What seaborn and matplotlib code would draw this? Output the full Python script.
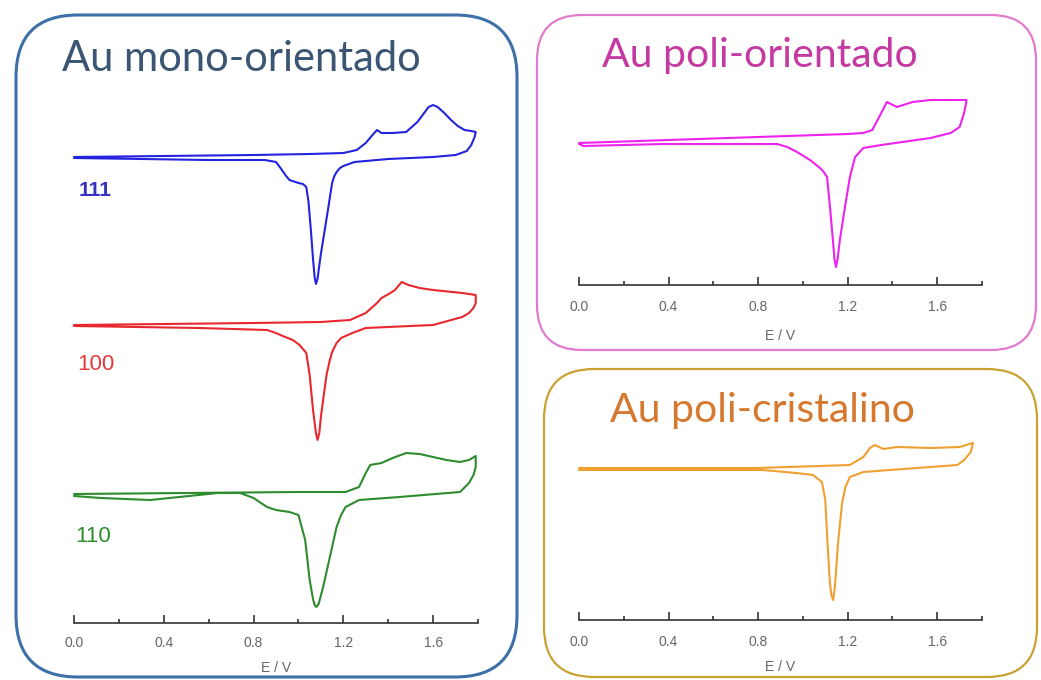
import numpy as np
import pandas as pd
import matplotlib
matplotlib.use("Agg")
import matplotlib.pyplot as plt
from matplotlib.patches import FancyBboxPatch
from matplotlib.ticker import FormatStrFormatter
import seaborn as sns

# --- voltammograms: E in V, current in arbitrary units ---
# Au(111)
e111_fwd = [0.0, 0.4, 0.8, 1.05, 1.20, 1.26, 1.30, 1.33, 1.35, 1.37, 1.42, 1.48, 1.53, 1.56, 1.58, 1.60,
            1.62, 1.65, 1.68, 1.71, 1.74, 1.77, 1.79]
j111_fwd = [0, 1, 2, 3, 4, 7, 14, 22, 27, 24, 24, 25, 35, 44, 50, 52, 50, 44, 37, 31, 27, 26, 25]
e111_rev = [1.79, 1.785, 1.77, 1.75, 1.70, 1.60, 1.40, 1.25, 1.20, 1.185, 1.17, 1.16, 1.15, 1.13, 1.115,
            1.10, 1.092, 1.085, 1.078, 1.072, 1.065, 1.055, 1.045, 1.035, 1.02, 1.00, 0.96, 0.945,
            0.92, 0.90, 0.85, 0.60, 0.30, 0.0]
j111_rev = [25, 20, 12, 6, 2, 0, -2, -5, -9, -11, -15, -19, -26, -55, -76, -97, -110, -122, -127,
            -120, -102, -72, -45, -30, -27, -26, -23, -19, -11, -5, -3, -3, -2, -1]

# Au(100)
e100_fwd = [0.0, 0.4, 0.8, 1.10, 1.23, 1.30, 1.35, 1.37, 1.41, 1.43, 1.46, 1.49, 1.54, 1.60, 1.73, 1.79]
j100_fwd = [0, 1, 2, 3, 5, 12, 22, 27, 32, 35, 43, 40, 37, 35, 32, 30]
e100_rev = [1.79, 1.78, 1.76, 1.73, 1.60, 1.30, 1.24, 1.19, 1.17, 1.15, 1.14, 1.125, 1.113, 1.10,
            1.093, 1.085, 1.078, 1.065, 1.05, 1.035, 1.005, 0.975, 0.93, 0.90, 0.86, 0.56, 0.0]
j100_rev = [22, 17, 12, 8, 0, -3, -8, -13, -18, -27, -35, -50, -70, -92, -108, -115, -108, -85,
            -50, -28, -20, -15, -11, -8, -5, -3, -1]

# Au(110)
e110_fwd = [0.0, 0.5, 1.0, 1.21, 1.27, 1.30, 1.32, 1.37, 1.42, 1.48, 1.54, 1.60, 1.66, 1.72, 1.76, 1.79]
j110_fwd = [0, 1, 2, 2, 7, 21, 29, 31, 36, 41, 40, 37, 34, 32, 34, 38]
e110_rev = [1.79, 1.78, 1.76, 1.72, 1.45, 1.27, 1.21, 1.19, 1.17, 1.14, 1.11, 1.09, 1.08, 1.072,
            1.065, 1.05, 1.03, 1.00, 0.96, 0.90, 0.86, 0.80, 0.74, 0.64, 0.34, 0.12, 0.0]
j110_rev = [27, 19, 11, 2, -3, -6, -13, -21, -33, -63, -93, -110, -113, -111, -105, -86, -46,
            -21, -18, -16, -13, -4, 1, 1, -6, -4, -2]

# Au poli-orientado
epo_fwd = [0.0, 0.4, 0.8, 1.20, 1.27, 1.31, 1.35, 1.375, 1.42, 1.49, 1.57, 1.73]
jpo_fwd = [1, 4, 7, 10, 11, 14, 31, 42, 37, 42, 44, 44]
epo_rev = [1.73, 1.72, 1.70, 1.66, 1.57, 1.35, 1.27, 1.233, 1.21, 1.188, 1.165, 1.155, 1.148,
           1.141, 1.134, 1.121, 1.108, 1.09, 1.076, 1.032, 0.974, 0.93, 0.885, 0.375, 0.02, 0.0]
jpo_rev = [42, 31, 17, 11, 6, -1, -4, -13, -33, -63, -96, -115, -123, -115, -96, -63, -33, -27,
           -24, -16, -8, -3, 0, 0, -2, 0]

# Au poli-cristalino
ecr_fwd = [0.0, 0.8, 1.21, 1.27, 1.30, 1.32, 1.36, 1.42, 1.57, 1.70, 1.76]
jcr_fwd = [1, 1, 4, 12, 21, 24, 20, 22, 21, 22, 26]
ecr_rev = [1.76, 1.75, 1.72, 1.69, 1.27, 1.21, 1.19, 1.175, 1.157, 1.143, 1.135, 1.127, 1.12,
           1.11, 1.10, 1.085, 1.045, 0.97, 0.82, 0.0]
jcr_rev = [26, 17, 9, 4, -3, -8, -18, -34, -74, -118, -131, -126, -112, -74, -31, -13, -6, -4, -1, -1]

major_ticks = [0.0, 0.4, 0.8, 1.2, 1.6]
minor_ticks = [0.2, 0.6, 1.0, 1.4, 1.8]

W, H = 1041, 680

sns.set_theme(style="white")
plt.rcParams['font.family'] = ['Liberation Sans', 'DejaVu Sans']

fig = plt.figure(figsize=(W / 100, H / 100), dpi=100)
fig.patch.set_facecolor('white')

# background layer in pixel coordinates for the rounded frames and titles
bg = fig.add_axes([0, 0, 1, 1])
bg.set_xlim(0, W)
bg.set_ylim(H, 0)
bg.axis('off')


def frame(x0, y0, x1, y1, r, color, lw):
    bg.add_patch(FancyBboxPatch((x0, y0), x1 - x0, y1 - y0,
                                boxstyle=f"round,pad=0,rounding_size={r}",
                                fc='none', ec=color, lw=lw))


frame(16, 15, 517, 677, 62, '#3d6fa8', 2.2)
frame(537, 15, 1036, 350, 45, '#e27bcb', 1.6)
frame(544, 369, 1037, 677, 50, '#c9a232', 1.6)

title_font = ['Lato', 'DejaVu Sans']
bg.text(62, 71, 'Au mono-orientado', fontsize=30, color='#3a5673',
        family=title_font, va='baseline', ha='left')
bg.text(602, 67, 'Au poli-orientado', fontsize=29.5, color='#c43aa2',
        family=title_font, va='baseline', ha='left')
bg.text(610, 422, 'Au poli-cristalino', fontsize=29.5, color='#d6782e',
        family=title_font, va='baseline', ha='left')


def px_axes(x0, x1, ytop, ybot):
    return fig.add_axes([x0 / W, 1 - ybot / H, (x1 - x0) / W, (ybot - ytop) / H])


def style_axis(ax, ymax, pad, labelpad):
    ax.set_xlim(-0.05, 1.85)
    ax.set_ylim(0, ymax)
    ax.patch.set_alpha(0)
    sns.despine(ax=ax, left=True)
    ax.spines['bottom'].set_bounds(0, 1.8)
    ax.spines['bottom'].set_color('#333333')
    ax.spines['bottom'].set_linewidth(1.2)
    ax.set_xticks(major_ticks)
    ax.set_xticks(minor_ticks, minor=True)
    ax.xaxis.set_major_formatter(FormatStrFormatter('%.1f'))
    ax.set_yticks([])
    ax.tick_params(axis='x', which='major', direction='in', length=6, width=1.2,
                   color='#333333', labelsize=10, labelcolor='#666666', pad=pad, bottom=True)
    ax.tick_params(axis='x', which='minor', direction='in', length=3, width=1.2,
                   color='#333333', bottom=True)
    ax.set_xlabel('E / V', fontsize=10, color='#666666', labelpad=labelpad)
    ax.set_ylabel('')


def draw_cv(ax, e_fwd, j_fwd, e_rev, j_rev, offset, color):
    df = pd.DataFrame({'E': e_fwd + e_rev, 'j': np.array(j_fwd + j_rev) + offset})
    sns.lineplot(data=df, x='E', y='j', sort=False, estimator=None,
                 color=color, lw=1.5, ax=ax)


# left panel: three single crystals stacked
ax_l = px_axes(74 - 11.2, 478 + 11.2, 93, 623)
draw_cv(ax_l, e111_fwd, j111_fwd, e111_rev, j111_rev, 466, '#2323e0')
draw_cv(ax_l, e100_fwd, j100_fwd, e100_rev, j100_rev, 298, '#e8282e')
draw_cv(ax_l, e110_fwd, j110_fwd, e110_rev, j110_rev, 129, '#2e8b2e')
style_axis(ax_l, 530, 9.5, 8)
ax_l.text(0.022, 433, '111', fontsize=15, fontweight='bold', color='#3434c0', va='center')
ax_l.text(0.014, 258, '100', fontsize=16, color='#e03a3a', va='center')
ax_l.text(0.005, 86, '110', fontsize=16, color='#2e8b2e', va='center')

# top right: poli-orientado
ax_po = px_axes(579 - 11.2, 982 + 11.2, 85, 285)
draw_cv(ax_po, epo_fwd, jpo_fwd, epo_rev, jpo_rev, 141, '#ee22ee')
style_axis(ax_po, 200, 10.5, 11)

# bottom right: poli-cristalino
ax_cr = px_axes(579 - 11.2, 982 + 11.2, 430, 620)
draw_cv(ax_cr, ecr_fwd, jcr_fwd, ecr_rev, jcr_rev, 151, '#f0a030')
style_axis(ax_cr, 190, 10.5, 8)

fig.savefig('out.png', dpi=100, facecolor='white')
